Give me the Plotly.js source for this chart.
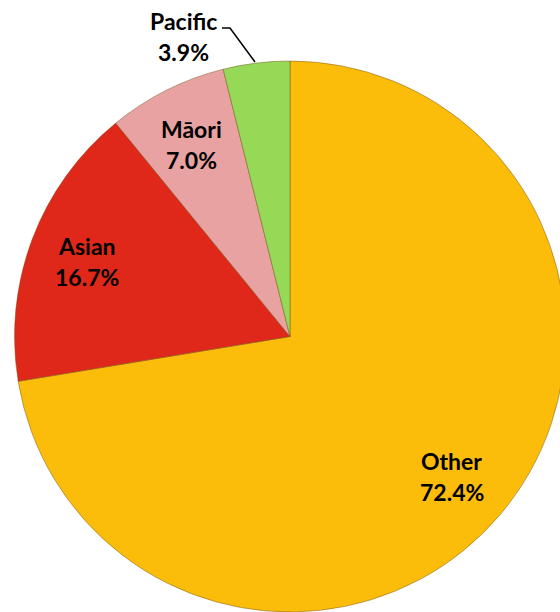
<!DOCTYPE html>
<html><head><meta charset="utf-8">
<script src="https://cdn.plot.ly/plotly-3.0.1.min.js"></script>
<style>html,body{margin:0;padding:0;overflow:hidden;background:#fff}#chart{width:580px;height:612px}</style>
</head><body><div id="chart"></div>
<script>
const categories = ["Other", "Asian", "M\u0101ori", "Pacific"];
const shares = [72.4, 16.7, 7.0, 3.9];
const colors = ["#FBBC0A", "#E0281A", "#E9A2A2", "#96D957"];

const W = 580, H = 612;
const cx = 290, cy = 336.5, R = 275.5;
const px = x => x / W;
const py = y => 1 - y / H;

const total = shares.reduce((a, b) => a + b, 0);
const annotations = [];
const font = {family: "Lato, 'Liberation Sans', sans-serif", size: 23, color: "#000"};
function addLabel(x, y, text) {
  annotations.push({x: px(x), y: py(y), xref: "paper", yref: "paper", xanchor: "center", yanchor: "middle",
    text: "<b>" + text + "</b>", showarrow: false, font});
}
let acc = 0;
shares.forEach((v, i) => {
  const mid = (acc + v / 2) / total * 2 * Math.PI;
  acc += v;
  const pct = v.toFixed(1) + "%";
  if (i === shares.length - 1) {
    addLabel(183, 21, categories[i]);
    addLabel(183, 52, pct);
  } else {
    const r = 0.78 * R;
    const lx = cx + r * Math.sin(mid), ly = cy - r * Math.cos(mid);
    addLabel(lx - 2, ly - 15, categories[i]);
    addLabel(lx - 2, ly + 16, pct);
  }
});

const data = [{
  type: "pie",
  labels: categories,
  values: shares,
  sort: false,
  direction: "clockwise",
  rotation: 0,
  textinfo: "none",
  hoverinfo: "label+percent",
  marker: {colors: colors, line: {color: "rgba(110,80,20,0.45)", width: 1}},
  domain: {x: [px(cx - R), px(cx + R)], y: [0, (H - (cy - R)) / H]},
  showlegend: false
}];

const layout = {
  width: W, height: H,
  margin: {l: 0, r: 0, t: 0, b: 0},
  paper_bgcolor: "#fff",
  annotations: annotations,
  shapes: [{
    type: "path", xref: "paper", yref: "paper",
    path: `M ${px(222)},${py(28)} L ${px(230)},${py(28)} L ${px(255)},${py(62)}`,
    line: {color: "#000", width: 1.5}
  }]
};

Plotly.newPlot("chart", data, layout, {staticPlot: true});
</script>
</body></html>
